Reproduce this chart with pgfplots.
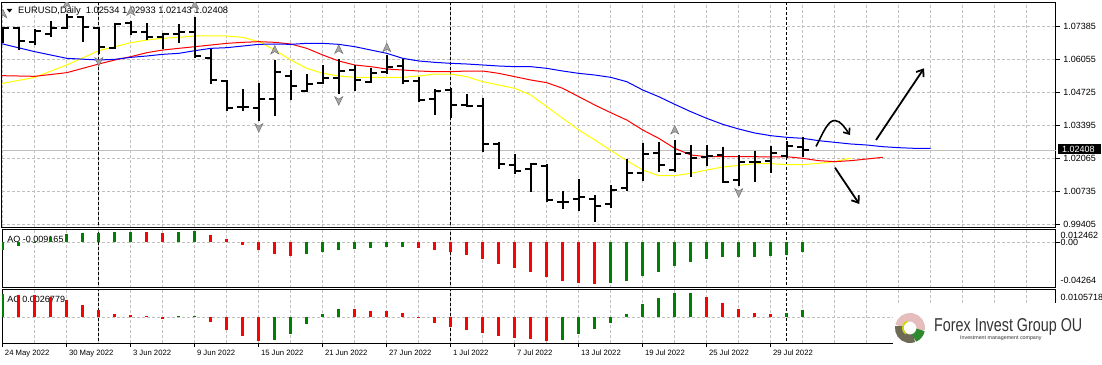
\documentclass[border=0pt]{standalone}
\usepackage{fontspec}
\setmainfont{Liberation Sans}
\usepackage{graphicx}
\usepackage{pgfplots}
\usepackage{pgfplotstable}
\pgfplotsset{compat=1.18}
\usetikzlibrary{arrows.meta}
\definecolor{gridgray}{HTML}{C0C0C0}
\definecolor{mtgreen}{HTML}{008000}
\definecolor{mtred}{HTML}{FF0000}
\definecolor{mtblue}{HTML}{0000FF}
\definecolor{mtyellow}{HTML}{FFFF00}
\definecolor{fracfill}{HTML}{A8A8A8}
\definecolor{fracdraw}{HTML}{707070}
\definecolor{logopink}{HTML}{E6BDBD}
\definecolor{logogray}{HTML}{6E6A55}
\definecolor{logogreen}{HTML}{2F8A2F}
\definecolor{logoyellow}{HTML}{C8DC00}
\definecolor{logotext}{HTML}{333333}

\pgfdeclareplotmark{fup}{%
  \pgfpathmoveto{\pgfqpoint{0pt}{4.5pt}}%
  \pgfpathlineto{\pgfqpoint{4pt}{-4pt}}%
  \pgfpathlineto{\pgfqpoint{0pt}{-1.5pt}}%
  \pgfpathlineto{\pgfqpoint{-4pt}{-4pt}}%
  \pgfpathclose
  \pgfusepathqfillstroke}
\pgfdeclareplotmark{fdown}{%
  \pgfpathmoveto{\pgfqpoint{0pt}{-4.5pt}}%
  \pgfpathlineto{\pgfqpoint{4pt}{4pt}}%
  \pgfpathlineto{\pgfqpoint{0pt}{1.5pt}}%
  \pgfpathlineto{\pgfqpoint{-4pt}{4pt}}%
  \pgfpathclose
  \pgfusepathqfillstroke}

\pgfplotstableread{
i o h l c
0 1.07271 1.07378 1.06708 1.07311
1 1.07311 1.07351 1.06439 1.06815
2 1.06775 1.07271 1.06640 1.07204
3 1.07070 1.07620 1.06976 1.07311
4 1.07311 1.07888 1.07271 1.07781
5 1.07781 1.07807 1.06775 1.07378
6 1.07311 1.07351 1.06278 1.06547
7 1.06506 1.07512 1.06466 1.07486
8 1.07512 1.07620 1.07043 1.07177
9 1.07177 1.07512 1.06842 1.06976
10 1.06976 1.07137 1.06466 1.07070
11 1.07070 1.07486 1.06708 1.07150
12 1.07150 1.07781 1.06104 1.06211
13 1.06104 1.06466 1.05058 1.05232
14 1.05192 1.05232 1.03998 1.04119
15 1.04132 1.04856 1.03985 1.04132
16 1.04119 1.05125 1.03596 1.04454
17 1.04454 1.06037 1.03797 1.05541
18 1.05406 1.05634 1.04427 1.04991
19 1.04803 1.05473 1.04736 1.05058
20 1.05125 1.05836 1.05071 1.05326
21 1.05326 1.06064 1.04669 1.05594
22 1.05634 1.05836 1.04803 1.05232
23 1.05165 1.05701 1.05125 1.05527
24 1.05541 1.06238 1.05473 1.05769
25 1.05809 1.06064 1.05058 1.05205
26 1.05192 1.05366 1.04360 1.04427
27 1.04454 1.04856 1.03824 1.04803
28 1.04830 1.04897 1.03689 1.04226
29 1.04213 1.04655 1.04159 1.04199
30 1.04199 1.04494 1.02348 1.02657
31 1.02643 1.02750 1.01637 1.01852
32 1.01812 1.02254 1.01436 1.01570
33 1.01637 1.01905 1.00738 1.01852
34 1.01785 1.01838 1.00336 1.00403
35 1.00336 1.00765 1.00027 1.00336
36 1.00430 1.01248 0.99974 1.00537
37 1.00430 1.00604 0.99531 1.00162
38 1.00229 1.01007 1.00068 1.00805
39 1.00873 1.02040 1.00779 1.01476
40 1.01476 1.02710 1.01181 1.02241
41 1.02281 1.02750 1.01543 1.01812
42 1.01610 1.02818 1.01543 1.02254
43 1.02281 1.02616 1.01315 1.02107
44 1.02147 1.02616 1.01785 1.02174
45 1.02214 1.02549 1.01101 1.01141
46 1.01208 1.02214 1.00980 1.01946
47 1.01946 1.02388 1.01141 1.01946
48 1.01986 1.02576 1.01476 1.02281
49 1.02187 1.02777 1.02107 1.02590
50 1.02534 1.02933 1.02143 1.02408
}\ohlc

\pgfplotstableread{
i v
-0.2 1.05070
0 1.05098
2 1.05339
4 1.05836
6 1.06412
7 1.06573
8 1.06734
9 1.06842
10 1.06909
11 1.06949
12 1.07003
13 1.07003
14 1.07003
15 1.06949
16 1.06775
17 1.06439
18 1.06037
19 1.05701
20 1.05500
21 1.05393
22 1.05339
23 1.05339
24 1.05339
25 1.05339
26 1.05393
27 1.05473
28 1.05473
29 1.05366
30 1.05165
31 1.05031
32 1.04897
33 1.04628
34 1.04159
35 1.03689
36 1.03220
37 1.02818
38 1.02402
39 1.01986
40 1.01610
41 1.01382
42 1.01382
43 1.01476
44 1.01610
45 1.01731
46 1.01798
47 1.01865
48 1.01865
49 1.01825
50 1.01825
51 1.01879
52 1.01946
53 1.02093
}\lips

\pgfplotstableread{
i v
-0.2 1.05406
0 1.05406
2 1.05380
4 1.05527
6 1.05876
7 1.06037
8 1.06171
9 1.06332
10 1.06439
11 1.06506
12 1.06573
13 1.06640
14 1.06708
15 1.06748
16 1.06775
17 1.06748
18 1.06681
19 1.06506
20 1.06238
21 1.05997
22 1.05836
23 1.05769
24 1.05675
25 1.05634
26 1.05594
27 1.05567
28 1.05567
29 1.05594
30 1.05594
31 1.05500
32 1.05366
33 1.05232
34 1.05125
35 1.04897
36 1.04561
37 1.04226
38 1.03917
39 1.03622
40 1.03220
41 1.02885
42 1.02482
43 1.02214
44 1.02147
45 1.02147
46 1.02147
47 1.02147
48 1.02133
49 1.02147
50 1.02080
51 1.01986
52 1.01946
53 1.01986
54 1.02053
55 1.02120
}\teeth

\pgfplotstableread{
i v
-0.2 1.06710
0 1.06681
2 1.06372
4 1.06104
6 1.06037
7 1.06064
8 1.06144
9 1.06198
10 1.06265
11 1.06305
12 1.06412
13 1.06506
14 1.06533
15 1.06600
16 1.06667
17 1.06681
18 1.06667
19 1.06708
20 1.06708
21 1.06667
22 1.06573
23 1.06439
24 1.06305
25 1.06104
26 1.05997
27 1.05943
28 1.05903
29 1.05876
30 1.05836
31 1.05795
32 1.05769
33 1.05769
34 1.05701
35 1.05594
36 1.05500
37 1.05433
38 1.05339
39 1.05165
40 1.04830
41 1.04561
42 1.04253
43 1.03958
44 1.03689
45 1.03448
46 1.03260
47 1.03099
48 1.02992
49 1.02925
50 1.02885
51 1.02791
52 1.02724
53 1.02657
54 1.02616
55 1.02549
56 1.02509
57 1.02482
58 1.02482
}\jaw

\pgfplotsset{
  mtpane/.style={
    scale only axis, width=1054pt, xmin=-0.05, xmax=65.825,
    axis line style={line width=1pt},
    xtick={0,2,...,64}, xticklabels={}, xtick style={draw=none},
    ytick pos=right, yticklabel pos=right, tick align=outside,
    ytick style={black, line width=1pt}, major tick length=4pt,
    xmajorgrids, ymajorgrids, scaled y ticks=false, scaled x ticks=false,
    major grid style={gridgray, line width=1pt, dash pattern=on 3pt off 2pt},
    yticklabel style={font=\fontsize{9}{10}\selectfont, text=black},
    clip marker paths=true,
  },
  sep/.style={black, line width=1pt, dash pattern=on 3pt off 2pt, forget plot},
  fractal/.style={only marks, forget plot, mark options={fill=fracfill, draw=fracdraw, line width=0.5pt, solid}},
  barv/.style={draw=none, mark=none, forget plot},
}

\begin{document}
\begin{tikzpicture}[x=1pt,y=1pt]
\path[use as bounding box] (0,0) rectangle (1102,-364);

% ---------------- main price pane
\begin{axis}[mtpane, name=main, at={(2pt,-2.5pt)}, anchor=north west, height=225pt,
  ymin=0.99296, ymax=1.08351,
  ytick={0.99405,1.00735,1.02065,1.03395,1.04725,1.06055,1.07385},
  yticklabels={0.99405,1.00735,1.02065,1.03395,1.04725,1.06055,1.07385}]
\addplot[sep] coordinates {(6,0.99) (6,1.09)};
\addplot[sep] coordinates {(28,0.99) (28,1.09)};
\addplot[sep] coordinates {(49,0.99) (49,1.09)};
\addplot[gridgray, line width=1pt, forget plot] coordinates {(-1,1.02408) (70,1.02408)};
\fill[black] (rel axis cs:0.00446,0.97111) -- (rel axis cs:0.00977,0.97111) -- (rel axis cs:0.00712,0.95556) -- cycle;
\node[anchor=base west, inner sep=0pt, font=\fontsize{9.3}{10}\selectfont] at (rel axis cs:0.0152,0.9493) {EURUSD,Daily~ 1.02534 1.02933 1.02143 1.02408};
\addplot[mtyellow, line width=1pt, forget plot] table[x=i, y=v] \lips;
\addplot[mtred, line width=1pt, forget plot] table[x=i, y=v] \teeth;
\addplot[mtblue, line width=1pt, forget plot] table[x=i, y=v] \jaw;
\addplot[barv, error bars/.cd, y dir=minus, y explicit, error mark=none,
  error bar style={line width=2pt, draw=black, solid}]
  table[x=i, y=h, y error expr=\thisrow{h}-\thisrow{l}] \ohlc;
\addplot[barv, error bars/.cd, x dir=minus, x fixed=0.36, error mark=none,
  error bar style={line width=2pt, draw=black, solid}]
  table[x=i, y=o] \ohlc;
\addplot[barv, error bars/.cd, x dir=plus, x fixed=0.36, error mark=none,
  error bar style={line width=2pt, draw=black, solid}]
  table[x=i, y=c] \ohlc;
\addplot[fractal, mark=fup] coordinates {(0,1.07900) (4,1.08290) (8,1.07995) (12,1.08250) (17,1.06439) (21,1.06466) (24,1.06533) (42,1.03220)};
\addplot[fractal, mark=fdown] coordinates {(6,1.05970) (16,1.03314) (21,1.04400) (37,0.99223) (46,1.00698)};
\end{axis}

% ---------------- AO pane
\begin{axis}[mtpane, name=ao, at={(main.south west)}, anchor=north west, yshift=-1.8pt, height=58.2pt,
  ymin=-0.04264, ymax=0.012462, ytick={0}, yticklabels={}]
\addplot[sep] coordinates {(6,-0.05) (6,0.02)};
\addplot[sep] coordinates {(28,-0.05) (28,0.02)};
\addplot[sep] coordinates {(49,-0.05) (49,0.02)};
\node[anchor=base west, inner sep=0pt, font=\fontsize{9}{10}\selectfont] at (axis cs:0.28,0.0003) {AO -0.009165};
\addplot[ycomb, mtgreen, line width=2.6pt, forget plot] coordinates {
(0,-0.00726) (1,-0.00316) (2,0.00079) (3,0.00505) (4,0.00758) (5,0.00930) (6,0.00940) (7,0.00950) (8,0.01010)
(11,0.01000) (12,0.01042) (19,-0.01105) (20,-0.00884) (21,-0.00726) (22,-0.00631) (23,-0.00568) (24,-0.00473) (25,-0.00410)
(38,-0.03851) (39,-0.03630) (40,-0.03188) (41,-0.02809) (42,-0.02241) (43,-0.01862) (44,-0.01578) (45,-0.01420)
(46,-0.01389) (47,-0.01357) (48,-0.01294) (49,-0.01199) (50,-0.009165)};
\addplot[ycomb, mtred, line width=2.6pt, forget plot] coordinates {
(9,0.00960) (10,0.00930) (13,0.00694) (14,0.00316) (15,-0.00253) (16,-0.00726) (17,-0.01105) (18,-0.01294)
(26,-0.00505) (27,-0.00694) (28,-0.00884) (29,-0.01199) (30,-0.01578) (31,-0.02052) (32,-0.02431) (33,-0.02809)
(34,-0.03283) (35,-0.03630) (36,-0.03851) (37,-0.03946)};
\end{axis}

% ---------------- AC pane
\begin{axis}[mtpane, name=ac, at={(ao.south west)}, anchor=north west, yshift=-1.8pt, height=54pt,
  ymin=-0.01004, ymax=0.0105718, ytick={0}, yticklabels={}]
\addplot[sep] coordinates {(6,-0.011) (6,0.011)};
\addplot[sep] coordinates {(28,-0.011) (28,0.011)};
\addplot[sep] coordinates {(49,-0.011) (49,0.011)};
\node[anchor=base west, inner sep=0pt, font=\fontsize{9}{10}\selectfont] at (axis cs:0.28,0.0057) {AC 0.0026779};
\addplot[ycomb, mtgreen, line width=2.6pt, forget plot] coordinates {
(0,0.00865) (11,0.00038) (12,0.00051) (17,-0.00878) (18,-0.00636) (19,-0.00254) (20,0.00115) (21,0.00310)
(35,-0.00865) (36,-0.00636) (37,-0.00445) (38,-0.00216) (39,0.00115) (40,0.00496) (41,0.00725) (42,0.00916) (43,0.00925)
(49,0.00140) (50,0.0026779)};
\addplot[ycomb, mtred, line width=2.6pt, forget plot] coordinates {
(1,0.00855) (2,0.00840) (3,0.00776) (4,0.00649) (5,0.00458) (6,0.00267) (7,0.00115) (8,0.00076) (9,0.00025) (10,-0.00064)
(13,-0.00178) (14,-0.00483) (15,-0.00725) (16,-0.00916)
(22,0.00295) (23,0.00229) (24,0.00220) (25,0.00153) (26,0.00013) (27,-0.00216) (28,-0.00382) (29,-0.00483) (30,-0.00611)
(31,-0.00712) (32,-0.00789) (33,-0.00827) (34,-0.00916)
(44,0.00763) (45,0.00534) (46,0.00305) (47,0.00153) (48,0.00115)};
\end{axis}

% ---------------- right-hand indicator labels
\begin{scope}[font=\fontsize{9}{10}\selectfont]
\node[anchor=base west, inner sep=0pt] at (1060.5,-238.3) {0.012462};
\node[anchor=base west, inner sep=0pt] at (1060.5,-245.6) {0.00};
\node[anchor=base west, inner sep=0pt] at (1060.5,-283.3) {-0.04264};
\node[anchor=base west, inner sep=0pt] at (1060.5,-300.0) {0.0105718};
\end{scope}

% ---------------- date axis
\foreach \i/\lab in {0/24 May 2022,4/30 May 2022,8/3 Jun 2022,12/9 Jun 2022,16/15 Jun 2022,20/21 Jun 2022,24/27 Jun 2022,28/1 Jul 2022,32/7 Jul 2022,36/13 Jul 2022,40/19 Jul 2022,44/25 Jul 2022,48/29 Jul 2022}{
  \draw[black, line width=1pt] ({2.8+16*\i},-343.3) -- ({2.8+16*\i},-347.3);
  \node[anchor=base west, inner sep=0pt, font=\fontsize{7.7}{9}\selectfont] at ({2.8+16*\i+2},-355.3) {\lab};
}

% ---------------- current price box
\fill[black] (1057.7,-144.3) rectangle (1100.5,-154.2);
\node[anchor=base west, inner sep=0pt, text=white, font=\fontsize{9}{10}\selectfont] at (1062,-152.5) {1.02408};

% ---------------- logo
\fill[white] (893,-303) rectangle (1102,-364);
\draw[line width=8.5pt, logopink] (910,-328) ++(-10:10.75) arc[start angle=-10, end angle=170, radius=10.75];
\draw[line width=8.5pt, logogray] (910,-328) ++(170:10.75) arc[start angle=170, end angle=292, radius=10.75];
\draw[line width=8.5pt, logogreen] (910,-328) ++(292:10.75) arc[start angle=292, end angle=350, radius=10.75];
\draw[line width=1.6pt, logoyellow] (910,-328) ++(115:7.2) arc[start angle=115, end angle=235, radius=7.2];
\node[anchor=base west, inner sep=0pt, text=logotext] at (934,-331.7) {\scalebox{0.77}[1]{\fontsize{18.6}{19}\selectfont Forex Invest Group OU}};
\node[anchor=base west, inner sep=0pt, text=logotext] at (960,-339.6) {\fontsize{5.3}{6}\selectfont Investment management company};

% ---------------- hand-drawn forecast arrows
\draw[line width=1.8pt, -{Straight Barb[length=6pt, width=9pt]}] (876,-140) -- (924,-68.3);
\draw[line width=1.6pt, -{Straight Barb[length=5pt, width=8pt]}] (816,-146.5) .. controls (823,-133) and (828,-120) .. (835,-120.5) .. controls (841,-121) and (845,-128) .. (850,-135);
\draw[line width=1.8pt, -{Straight Barb[length=6pt, width=9pt]}] (835,-167.7) -- (859.3,-204);
\end{tikzpicture}
\end{document}
